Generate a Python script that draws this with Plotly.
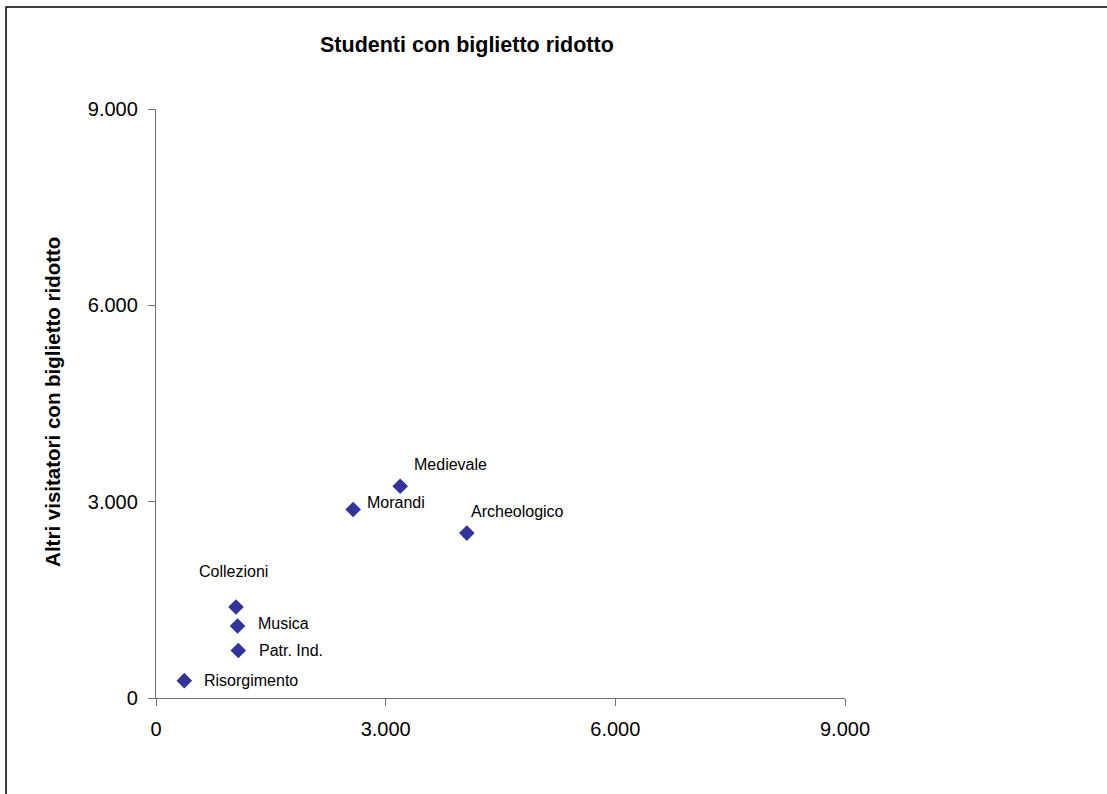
import plotly.graph_objects as go

# Data
musei = ["Medievale", "Morandi", "Archeologico", "Collezioni", "Musica", "Patr. Ind.", "Risorgimento"]
studenti = [3190, 2575, 4060, 1045, 1065, 1075, 370]
altri = [3235, 2880, 2520, 1390, 1100, 725, 265]

tick_vals = [0, 3000, 6000, 9000]
tick_text = ["0", "3.000", "6.000", "9.000"]

# Label pixel offsets (style)
label_dx = [14, 14, 4, -37, 20, 21, 20]
label_dy = [22, 7, 22, 36, 3, 0, 0]

FONT = "Liberation Sans, Arial, sans-serif"
W, H = 1107, 794
L, R, T, B = 155.5, 1107 - 844.7, 109, 794 - 698.3
pw, ph = W - L - R, H - T - B

fig = go.Figure()
fig.add_trace(go.Scatter(
    x=studenti, y=altri, mode="markers",
    marker=dict(symbol="diamond", size=12, color="#333399", line=dict(width=0)),
    hoverinfo="text", text=musei, showlegend=False, cliponaxis=False,
))

annotations = []
for name, xv, yv, dx, dy in zip(musei, studenti, altri, label_dx, label_dy):
    annotations.append(dict(
        x=xv, y=yv, xref="x", yref="y", text=name, showarrow=False,
        xanchor="left", yanchor="middle", xshift=dx - 2, yshift=dy,
        font=dict(family=FONT, size=16, color="#000000"),
    ))

# y-axis title
annotations.append(dict(
    x=(52 - L) / pw, y=(H - B - 402.5) / ph, xref="paper", yref="paper",
    text="<b>Altri visitatori con biglietto ridotto</b>", textangle=-90,
    showarrow=False, xanchor="center", yanchor="middle",
    font=dict(family=FONT, size=20.5, color="#000000"),
))

shapes = [dict(
    type="rect", xref="paper", yref="paper",
    x0=(5.5 - L) / pw, x1=(1115 - L) / pw,
    y0=(H - B - 805) / ph, y1=(H - B - 7) / ph,
    line=dict(color="#000000", width=1.5), fillcolor="rgba(0,0,0,0)", layer="below",
)]

fig.update_layout(
    width=W, height=H,
    margin=dict(l=L, r=R, t=T, b=B, pad=0),
    paper_bgcolor="white", plot_bgcolor="white",
    title=dict(
        text="<b>Studenti con biglietto ridotto</b>",
        x=(466.5 - L) / pw, xref="paper", xanchor="center",
        y=1 - 44 / H, yref="container", yanchor="middle",
        font=dict(family=FONT, size=21.5, color="#000000"),
    ),
    xaxis=dict(
        range=[0, 9000], tickvals=tick_vals, ticktext=tick_text,
        showgrid=False, zeroline=False, showline=True, linecolor="#707070", linewidth=1.3,
        ticks="outside", ticklen=7, tickcolor="#707070", tickwidth=1.3,
        ticklabelstandoff=6,
        tickfont=dict(family=FONT, size=20, color="#000000"),
    ),
    yaxis=dict(
        range=[0, 9000], tickvals=tick_vals, ticktext=tick_text,
        showgrid=False, zeroline=False, showline=True, linecolor="#707070", linewidth=1.3,
        ticks="outside", ticklen=7, tickcolor="#707070", tickwidth=1.3,
        ticklabelstandoff=6,
        tickfont=dict(family=FONT, size=20, color="#000000"),
    ),
    annotations=annotations,
    shapes=shapes,
)

fig.write_html(
    "out.html",
    config={"displayModeBar": False},
    post_script="document.body.style.margin='0px'; document.body.style.overflow='hidden';",
)
